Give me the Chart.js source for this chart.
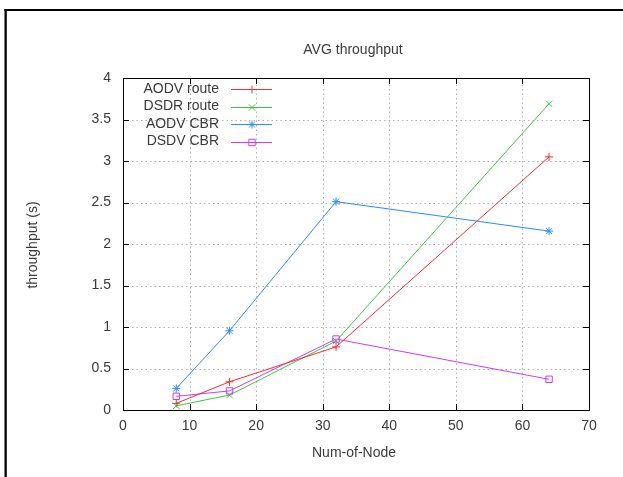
<!DOCTYPE html>
<html>
<head>
<meta charset="utf-8">
<script src="https://cdn.jsdelivr.net/npm/chart.js@4.4.0/dist/chart.umd.min.js"></script>
<style>
html,body{margin:0;padding:0;background:#fff;}
#c{display:block;}
</style>
</head>
<body>
<canvas id="c" width="623" height="477" style="width:623px;height:477px"></canvas>
<script>
const chartTitle = "AVG throughput";
const xTitle = "Num-of-Node";
const yTitle = "throughput (s)";
const nodes = [8, 16, 32, 64];
const seriesNames = ["AODV route", "DSDR route", "AODV CBR", "DSDV CBR"];
const aodvRoute = [0.08, 0.34, 0.76, 3.05];
const dsdrRoute = [0.05, 0.18, 0.83, 3.69];
const aodvCbr = [0.26, 0.955, 2.51, 2.155];
const dsdvCbr = [0.165, 0.23, 0.855, 0.37];
const seriesColors = ["#ff2a2a", "#3cc83c", "#2a8cff", "#c83cff"];
const seriesMarkers = ["cross", "crossRot", "star", "rect"];
const xMin = 0, xMax = 70, xStep = 10;
const yMin = 0, yMax = 4, yStep = 0.5;

const allValues = [aodvRoute, dsdrRoute, aodvCbr, dsdvCbr];
const FONT = '"Liberation Sans", Arial, sans-serif';
const TEXT = '#3a3a3a';
const FS = 14;

function drawMarker(ctx, style, x, y, r, color) {
  ctx.save();
  ctx.strokeStyle = color;
  ctx.lineWidth = 1;
  ctx.beginPath();
  if (style === 'cross') {
    ctx.moveTo(x - r, y); ctx.lineTo(x + r, y);
    ctx.moveTo(x, y - r); ctx.lineTo(x, y + r);
  } else if (style === 'crossRot') {
    const d = r * 0.8;
    ctx.moveTo(x - d, y - d); ctx.lineTo(x + d, y + d);
    ctx.moveTo(x - d, y + d); ctx.lineTo(x + d, y - d);
  } else if (style === 'star') {
    const d = r * 0.75;
    ctx.moveTo(x - r, y); ctx.lineTo(x + r, y);
    ctx.moveTo(x, y - r); ctx.lineTo(x, y + r);
    ctx.moveTo(x - d, y - d); ctx.lineTo(x + d, y + d);
    ctx.moveTo(x - d, y + d); ctx.lineTo(x + d, y - d);
  } else if (style === 'rect') {
    ctx.rect(x - r * 0.8, y - r * 0.8, r * 1.6, r * 1.6);
  }
  ctx.stroke();
  ctx.restore();
}

const framePlugin = {
  id: 'frame',
  beforeDraw(chart) {
    const ctx = chart.ctx;
    ctx.save();
    ctx.fillStyle = '#fff';
    ctx.fillRect(0, 0, chart.width, chart.height);
    ctx.fillStyle = '#000';
    ctx.fillRect(4.5, 9, 2.3, chart.height - 9);
    ctx.fillRect(4.5, 9, chart.width - 4.5, 2);
    ctx.restore();
  },
  beforeDatasetsDraw(chart) {
    const ctx = chart.ctx;
    const a = chart.chartArea;
    const xs = chart.scales.x, ys = chart.scales.y;
    ctx.save();
    ctx.strokeStyle = '#b0b0b0';
    ctx.lineWidth = 1;
    ctx.setLineDash([1.5, 3]);
    xs.ticks.forEach(t => {
      if (t.value <= xMin || t.value >= xMax) return;
      const px = Math.round(xs.getPixelForValue(t.value)) + 0.5;
      ctx.beginPath(); ctx.moveTo(px, a.bottom); ctx.lineTo(px, a.top); ctx.stroke();
    });
    ys.ticks.forEach(t => {
      if (t.value <= yMin || t.value >= yMax) return;
      const py = Math.round(ys.getPixelForValue(t.value)) + 0.5;
      ctx.beginPath(); ctx.moveTo(a.left, py); ctx.lineTo(a.right, py); ctx.stroke();
    });
    ctx.setLineDash([]);
    ctx.strokeStyle = '#000';
    const tl = 6;
    xs.ticks.forEach(t => {
      const px = Math.round(xs.getPixelForValue(t.value)) + 0.5;
      ctx.beginPath();
      ctx.moveTo(px, a.bottom); ctx.lineTo(px, a.bottom - tl);
      ctx.moveTo(px, a.top); ctx.lineTo(px, a.top + tl);
      ctx.stroke();
    });
    ys.ticks.forEach(t => {
      const py = Math.round(ys.getPixelForValue(t.value)) + 0.5;
      ctx.beginPath();
      ctx.moveTo(a.left, py); ctx.lineTo(a.left + tl, py);
      ctx.moveTo(a.right, py); ctx.lineTo(a.right - tl, py);
      ctx.stroke();
    });
    ctx.restore();
  },
  afterDraw(chart) {
    const ctx = chart.ctx;
    const a = chart.chartArea;
    ctx.save();
    ctx.strokeStyle = '#000';
    ctx.lineWidth = 1;
    ctx.strokeRect(Math.round(a.left) + 0.5, Math.round(a.top) + 0.5,
                   Math.round(a.right - a.left), Math.round(a.bottom - a.top));
    ctx.fillStyle = TEXT;
    ctx.font = FS + 'px ' + FONT;
    ctx.textAlign = 'center';
    ctx.textBaseline = 'middle';
    ctx.fillText(chartTitle, 353, 50);
    ctx.fillText(xTitle, 354, 453);
    ctx.save();
    ctx.translate(33, 245);
    ctx.rotate(-Math.PI / 2);
    ctx.fillText(yTitle, 0, 0);
    ctx.restore();
    chart.data.datasets.forEach((ds, i) => {
      const y = 89 + i * 17.5;
      ctx.fillStyle = TEXT;
      ctx.textAlign = 'right';
      ctx.fillText(ds.label, 219, y);
      ctx.strokeStyle = ds.borderColor;
      ctx.lineWidth = 1;
      ctx.beginPath();
      ctx.moveTo(231, Math.round(y) + 0.5);
      ctx.lineTo(272, Math.round(y) + 0.5);
      ctx.stroke();
      drawMarker(ctx, seriesMarkers[i], 252, Math.round(y) + 0.5, 4, ds.borderColor);
    });
    ctx.restore();
  }
};

const markerPlugin = {
  id: 'markers',
  afterDatasetsDraw(chart) {
    const ctx = chart.ctx;
    chart.data.datasets.forEach((ds, i) => {
      const meta = chart.getDatasetMeta(i);
      meta.data.forEach(pt => {
        drawMarker(ctx, seriesMarkers[i], pt.x, pt.y, 4, ds.borderColor);
      });
    });
  }
};

const datasets = seriesNames.map((name, i) => ({
  label: name,
  data: nodes.map((n, j) => ({x: n, y: allValues[i][j]})),
  borderColor: seriesColors[i],
  backgroundColor: seriesColors[i],
  borderWidth: 1,
  pointRadius: 0,
  tension: 0,
  fill: false
}));

new Chart(document.getElementById('c'), {
  type: 'line',
  data: { datasets },
  options: {
    responsive: false,
    animation: false,
    devicePixelRatio: 1,
    layout: { padding: { left: 0, right: 34, top: 78, bottom: 0 } },
    plugins: { legend: { display: false }, title: { display: false }, tooltip: { enabled: false } },
    scales: {
      x: {
        type: 'linear', min: xMin, max: xMax,
        ticks: { stepSize: xStep, color: TEXT, font: { family: FONT, size: FS }, padding: 8,
                 callback: v => String(v), maxRotation: 0 },
        grid: { display: false, drawTicks: false },
        border: { display: false },
        afterFit(s) { s.height = 477 - 410; }
      },
      y: {
        type: 'linear', min: yMin, max: yMax,
        ticks: { stepSize: yStep, color: TEXT, font: { family: FONT, size: FS }, padding: 12,
                 callback: v => String(v) },
        grid: { display: false, drawTicks: false },
        border: { display: false },
        afterFit(s) { s.width = 123; }
      }
    }
  },
  plugins: [framePlugin, markerPlugin]
});
</script>
</body>
</html>
